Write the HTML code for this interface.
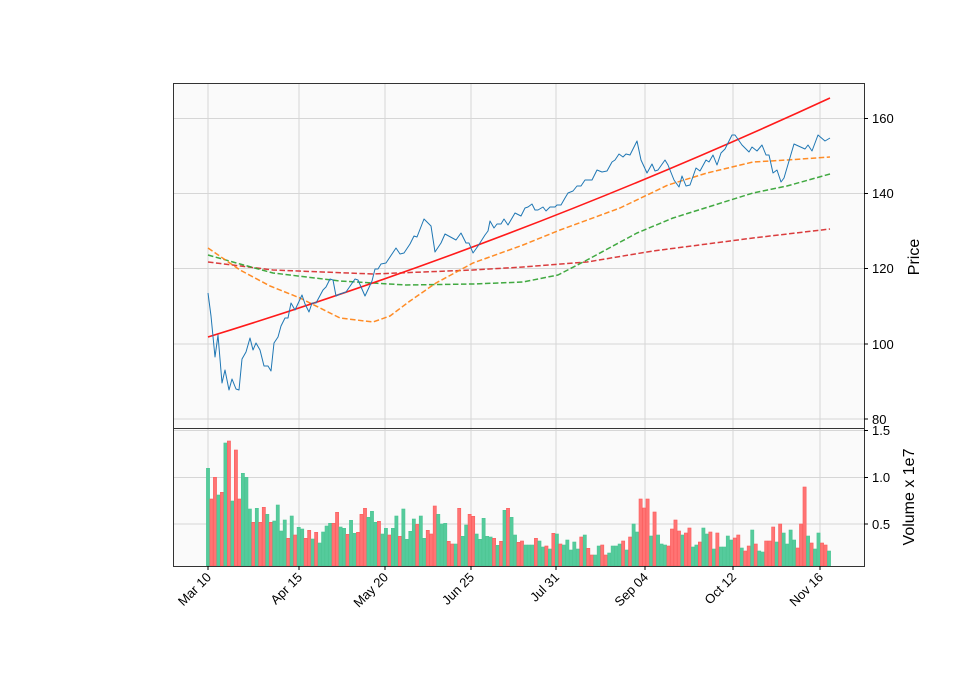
<!DOCTYPE html>
<html><head><meta charset="utf-8"><style>
body{margin:0;background:#fff;}
svg{display:block;font-family:"Liberation Sans","DejaVu Sans",sans-serif;}
</style></head><body>
<svg id="s" width="960" height="690" viewBox="0 0 960 690" xmlns="http://www.w3.org/2000/svg">
<rect x="0" y="0" width="960" height="690" fill="#fff"/>
<rect x="173.5" y="83.5" width="691" height="345" fill="#fafafa"/>
<rect x="173.5" y="428.5" width="691" height="138" fill="#fafafa"/>
<g stroke="#d6d6d6" stroke-width="1" fill="none">
<path d="M208 84V428M299 84V428M385 84V428M471 84V428M556 84V428M645 84V428M733 84V428M820 84V428"/>
<path d="M208 429V566M299 429V566M385 429V566M471 429V566M556 429V566M645 429V566M733 429V566M820 429V566"/>
<path d="M174 118.5H864M174 193.5H864M174 268.5H864M174 344H864M174 419H864"/>
<path d="M174 430.5H864M174 477.5H864M174 524H864"/>
</g>
<g id="bars"></g>
<g fill="none" stroke-linejoin="round">
<polyline stroke="#d62728" stroke-width="1.5" stroke-dasharray="5.5,2.5" opacity="0.9" points="208,262 273,270 373,274 473,270 523,267 587,262 653,251 753,238 830,229"/>
<polyline stroke="#2ca02c" stroke-width="1.5" stroke-dasharray="5.5,2.5" opacity="0.9" points="208,255 240,264 273,273 340,281 373,283 406,285 473,284 523,282 558,275 587,260 637,233 673,218 753,193 787,186 830,174"/>
<polyline stroke="#ff7f0e" stroke-width="1.5" stroke-dasharray="5.5,2.5" opacity="0.9" points="208,248 240,270 270,286 300,298 340,318 373,322 390,316 410,301 436,283 473,263 523,245 560,230 620,208 668,185 707,173 753,162 787,160 830,157"/>
<path stroke="#ff1a1a" stroke-width="1.6" d="M208,337 Q520,241 830,98"/>
<polyline stroke="#1f77b4" stroke-width="1" points="208,293 211,316 215,357 218,335 222,383 225,370 229,390 232,379 236,389 239,390 242,359 246,352 250,338 253,350 256,343 260,350 264,366 268,366 271,371 274,343 278,337 281,326 285,318 288,318 291,303 295,310 302,295 305,304 309,312 312,303 316,303 323,290 326,287 330,279 333,280 336,296 340,294 346,292 355,279 358,280 365,296 372,281 375,269 378,269 381,264 386,263 396,248 400,254 404,253 410,244 414,236 417,237 424,219 431,226 435,252 441,243 445,234 456,240 461,233 466,243 469,243 473,253 478,246 485,235 488,231 490,221 494,228 497,224 501,224 504,219 508,225 515,213 521,216 525,208 528,207 532,204 535,210 538,210 543,207 546,211 550,207 555,207 557,205 561,205 565,198 568,193 573,191 577,186 581,186 585,180 592,180 597,170 602,172 607,171 612,162 615,160 619,154 623,157 626,154 630,155 637,141 641,160 647,173 652,164 655,171 658,170 665,160 668,165 674,180 679,187 682,176 686,186 690,185 696,168 700,171 706,160 709,162 713,155 717,165 721,153 725,149 732,135 735,135 742,145 749,152 752,147 757,151 762,145 766,155 769,155 773,173 777,170 781,182 784,178 794,144 805,149 808,145 812,151 818,135 825,141 830,138"/>
</g>
<rect x="173.5" y="83.5" width="691" height="345" fill="none" stroke="#333" stroke-width="1"/>
<rect x="173.5" y="428.5" width="691" height="138" fill="none" stroke="#333" stroke-width="1"/>
<g stroke="#000" stroke-width="1">
<path d="M864 118.5h4M864 193.5h4M864 268.5h4M864 344h4M864 419h4M864 430.5h4M864 477.5h4M864 524h4"/>
<path d="M208 566v4M299 566v4M385 566v4M471 566v4M556 566v4M645 566v4M733 566v4M820 566v4"/>
</g>
<g font-size="13" fill="#000">
<text x="872" y="123">160</text><text x="872" y="198">140</text><text x="872" y="273">120</text><text x="872" y="349">100</text><text x="872" y="424">80</text>
<text x="872" y="435">1.5</text><text x="872" y="482">1.0</text><text x="872" y="529">0.5</text>
</g>
<g font-size="13" fill="#000" text-anchor="end">
<text transform="translate(212,578) rotate(-45)">Mar 10</text>
<text transform="translate(303,578) rotate(-45)">Apr 15</text>
<text transform="translate(389,578) rotate(-45)">May 20</text>
<text transform="translate(475,578) rotate(-45)">Jun 25</text>
<text transform="translate(560,578) rotate(-45)">Jul 31</text>
<text transform="translate(649,578) rotate(-45)">Sep 04</text>
<text transform="translate(737,578) rotate(-45)">Oct 12</text>
<text transform="translate(824,578) rotate(-45)">Nov 16</text>
</g>
<text transform="translate(919,257) rotate(-90)" font-size="16" text-anchor="middle">Price</text>
<text transform="translate(914,497) rotate(-90)" font-size="16" text-anchor="middle">Volume x 1e7</text>
</svg>
<script>
var d="G100 R192 R127 G180 R172 G24 R18 G198 R45 R192 G115 G127 G222 R262 G220 R262 R217 G238 R262 G258 G210 G288 G255 R310 G243 R300 G277 G282 R310 R286 G312 R292 G324 G291 G273 G265 R265 R232 G276 G280 R298 G256 G295 R292 R238 R220 G247 G229 G262 R259 G297 G280 R300 G280 G243 R304 G222 G313 G289 G252 R268 G243 G310 R286 R297 R213 G238 G267 G265 R319 R327 G327 R220 G304 G270 R238 R244 G297 G313 G250 G304 G306 R310 G331 R319 G226 R220 G247 G300 R322 R318 G330 G330 G330 R310 G318 G336 R333 G342 R295 G297 R327 G330 G315 G345 G321 G342 R306 G300 R340 R360 G360 G333 R330 R360 G354 G333 G333 G327 R318 G345 R306 G267 G291 R192 R219 R192 G303 R231 G300 G327 G330 R333 R282 R255 R288 G300 R294 R279 G336 G330 R321 G279 G297 R291 G342 R294 G336 G336 G303 G315 R309 R300 G339 R348 R333 G285 R327 G348 G351 R318 R318 R276 G321 R267 G294 G327 G285 G315 R339 R267 R156 G303 R324 G342 G294 R324 R330 G348".split(" ");
var g=document.getElementById("bars"),h="",n=d.length,sp=(829-208)/(n-1);
for(var i=0;i<n;i++){var c=d[i][0],zy=+d[i].slice(1),y=435+zy/3,x=208+i*sp-1.6;
h+='<rect x="'+x.toFixed(2)+'" y="'+y.toFixed(1)+'" width="3.2" height="'+(566-y).toFixed(1)+'" fill="'+(c=="G"?"#55cb9c":"#ff7474")+'" stroke="'+(c=="G"?"#4cc593":"#fb5e5e")+'" stroke-width="0.6"/>';}
g.innerHTML=h;
</script>
</body></html>
